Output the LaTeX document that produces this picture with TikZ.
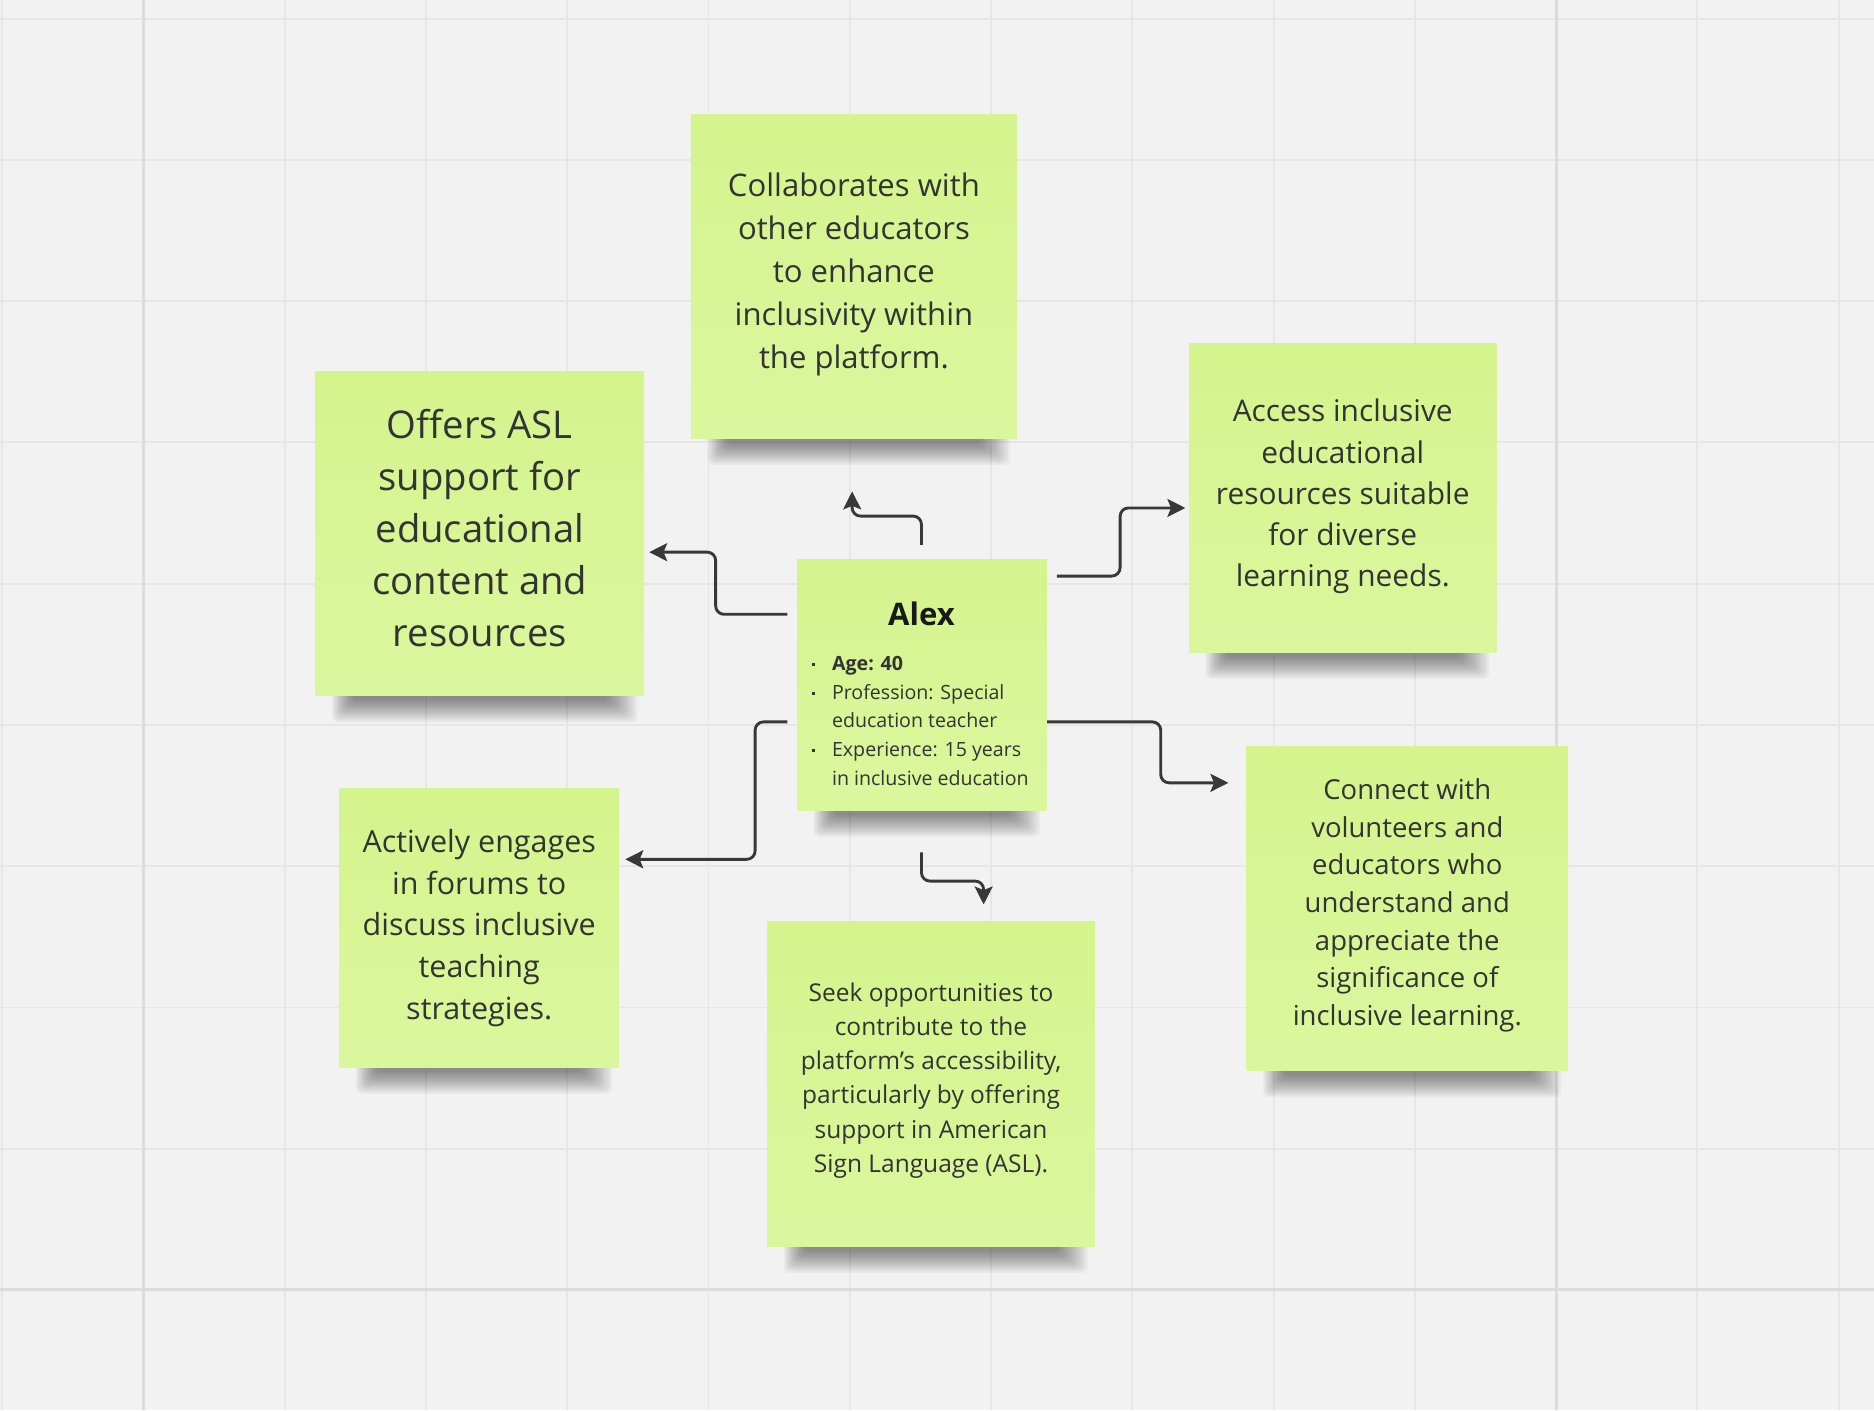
\documentclass[tikz,border=0pt]{standalone}
\usepackage{fontspec}
\setmainfont{Open Sans}
\usetikzlibrary{arrows.meta,calc,positioning}
\pgfdeclarelayer{gridlayer}
\pgfdeclarelayer{shadowlayer}
\pgfsetlayers{gridlayer,shadowlayer,main}
\definecolor{bgc}{HTML}{F2F2F2}
\definecolor{minorc}{HTML}{E6E6E6}
\definecolor{majorc}{HTML}{DCDCDC}
\definecolor{notetop}{HTML}{D4F48D}
\definecolor{notebot}{HTML}{DBF79E}
\definecolor{txtc}{HTML}{333333}
\definecolor{linec}{HTML}{383838}
\tikzset{
  note/.style={rectangle, inner sep=0pt, top color=notetop, bottom color=notebot},
  notetext/.style={align=center, text=txtc, inner sep=0pt},
  conn/.style={draw=linec, line width=2.4pt, rounded corners=7pt,
    -{Stealth[length=15pt,width=15pt,inset=3pt]}},
}
\newcommand{\noteshadow}[1]{%
  \begin{pgfonlayer}{shadowlayer}
  \foreach \i in {0,...,13}{
    \fill[black,opacity=0.036,rounded corners=5pt]
      ($(#1.south west)+(14+1.3*\i,-4)$) rectangle ($(#1.south east)+(-6-1.9*\i,22-1.4*\i)$);
  }
  \end{pgfonlayer}}
\newcommand{\blt}{\makebox[20pt][l]{\hspace{3pt}\rule[3.5pt]{2.6pt}{2.6pt}}}
\newcommand{\nblt}{\makebox[20pt][l]{}}
\begin{document}
\begin{tikzpicture}[x=1pt,y=-1pt]
\useasboundingbox (0,0) rectangle (1568,1180);
\begin{pgfonlayer}{gridlayer}
\fill[bgc] (0,0) rectangle (1568,1180);
\foreach \k in {0,...,13}{
  \draw[minorc,line width=1.6pt] (1.8+118.2*\k,0) -- (1.8+118.2*\k,1180);
}
\foreach \k in {0,...,9}{
  \draw[minorc,line width=1.6pt] (0,15.6+118.2*\k) -- (1568,15.6+118.2*\k);
}
\draw[majorc,line width=2.4pt] (120,0) -- (120,1180);
\draw[majorc,line width=2.4pt] (1302,0) -- (1302,1180);
\draw[majorc,line width=2.4pt] (0,1079) -- (1568,1079);
\end{pgfonlayer}

% notes
\node[note, minimum width=273pt, minimum height=271pt] (collab) at (714.5,231.5) {};
\node[notetext, font=\fontsize{26}{36}\selectfont] (collabtxt) at ($(collab)+(0,-2)$)
  {Collaborates with\\other educators\\to enhance\\inclusivity within\\the platform.};

\node[note, minimum width=275pt, minimum height=271pt] (offers) at (401.5,446.5) {};
\node[notetext, font=\fontsize{32}{43.5}\selectfont] (offerstxt) at ($(offers)+(0,-5)$)
  {Offers ASL\\support for\\educational\\content and\\resources};

\node[note, minimum width=257pt, minimum height=259pt] (access) at (1123.5,416.5) {};
\node[notetext, font=\fontsize{25}{34.5}\selectfont] (accesstxt) at ($(access)+(0,-1)$)
  {Access inclusive\\educational\\resources suitable\\for diverse\\learning needs.};

\node[note, minimum width=209pt, minimum height=210pt] (alex) at (771.5,573) {};
\node[text=black!90, font=\bfseries\fontsize{26}{30}\selectfont, anchor=base, inner sep=0pt]
  (alexname) at (771,523) {Alex};
\node[anchor=north west, text=txtc, align=left, inner sep=0pt,
  font=\fontsize{16.4}{24}\selectfont] (alexinfo) at (676,549)
  {\blt\textbf{Age: 40}\\
   \blt Profession: Special\\
   \nblt education teacher\\
   \blt Experience: 15 years\\
   \nblt in inclusive education};

\node[note, minimum width=234pt, minimum height=233pt] (actively) at (401,776.5) {};
\node[notetext, font=\fontsize{25.5}{35}\selectfont] (activelytxt) at (actively)
  {Actively engages\\in forums to\\discuss inclusive\\teaching\\strategies.};

\node[note, minimum width=274pt, minimum height=272pt] (seek) at (779,907) {};
\node[notetext, font=\fontsize{20.5}{28.7}\selectfont] (seektxt) at ($(seek)+(0,-3)$)
  {Seek opportunities to\\contribute to the\\platform's accessibility,\\particularly by offering\\support in American\\Sign Language (ASL).};

\node[note, minimum width=269pt, minimum height=271pt] (connect) at (1177.5,760.5) {};
\node[notetext, font=\fontsize{23}{31.5}\selectfont] (connecttxt) at ($(connect)+(0,-3)$)
  {Connect with\\volunteers and\\educators who\\understand and\\appreciate the\\significance of\\inclusive learning.};

\noteshadow{collab}
\noteshadow{offers}
\noteshadow{access}
\noteshadow{alex}
\noteshadow{actively}
\noteshadow{seek}
\noteshadow{connect}

% connectors
\draw[conn] ($(alex.north)+(-0.5,-12)$) -- ++(0,-24) -| ($(collab.south)+(-1.5,44)$);
\draw[conn] ($(alex.west)+(-8,-59)$) -- ++(-60,0) |- ($(offers.east)+(4,15.5)$);
\draw[conn] ($(alex.east)+(8,-91)$) -- ++(53,0) |- ($(access.west)+(-3,8.5)$);
\draw[conn] ($(alex.east)+(0,31)$) -- ++(95,0) |- ($(connect.west)+(-15,-105.5)$);
\draw[conn] ($(alex.west)+(-8,31)$) -- ++(-27,0) |- ($(actively.east)+(5,-57.5)$);
\draw[conn] ($(alex.south)+(-0.5,35)$) -- ++(0,24) -| ($(seek.north)+(44,-14)$);
\end{tikzpicture}
\end{document}
